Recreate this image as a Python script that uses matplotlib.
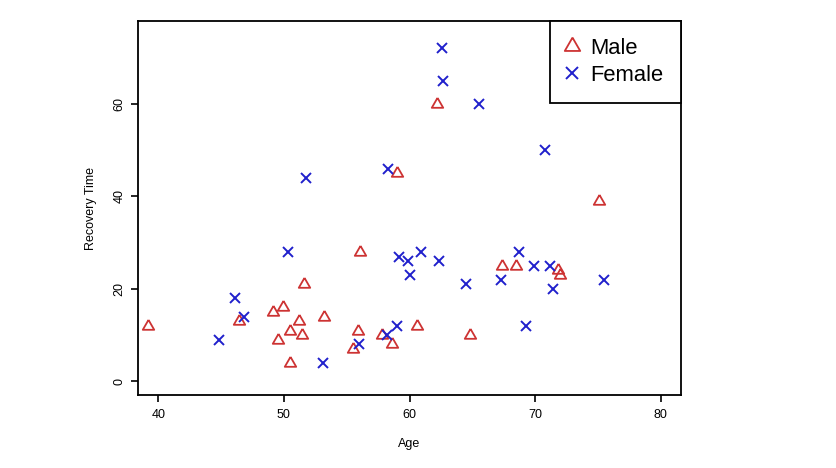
import matplotlib
matplotlib.use("Agg")
import matplotlib.pyplot as plt
import numpy as np

plt.rcParams['font.family'] = ['Liberation Sans', 'DejaVu Sans']

male_age = [39.2, 46.4, 49.1, 49.95, 51.2, 53.2, 50.5, 51.4, 49.5, 50.5, 51.6, 56.05,
            55.9, 57.8, 58.6, 55.5, 60.6, 64.8, 59.0, 62.2, 67.4, 68.5, 71.8, 72.0, 75.1]
male_rec = [12, 13, 15, 16, 13, 14, 11, 10, 9, 4, 21, 28,
            11, 10, 8, 7, 12, 10, 45, 60, 25, 25, 24, 23, 39]

female_age = [44.85, 46.1, 46.8, 50.3, 51.75, 53.1, 56.0, 58.2, 59.0, 58.3, 59.2, 59.9,
              60.0, 60.9, 62.35, 62.6, 62.7, 65.5, 64.5, 67.3, 68.7, 69.9, 71.2, 71.4,
              69.3, 75.5, 70.8]
female_rec = [9, 18, 14, 28, 44, 4, 8, 10, 12, 46, 27, 26,
              23, 28, 26, 72, 65, 60, 21, 22, 28, 25, 25, 20,
              12, 22, 50]

x_ticks = [40, 50, 60, 70, 80]
y_ticks = [0, 20, 40, 60]
x_lim = (40, 80)
y_lim = (0, 75)

red = '#cd3333'
blue = '#2020cc'

# R-style open triangle (pch = 2)
tri = [(0, 1.555), (1.347, -0.778), (-1.347, -0.778), (0, 1.555)]

fig = plt.figure(figsize=(8.36, 4.68), dpi=100)
ax = fig.add_axes([138.3 / 836, 1 - 395.3 / 468, (680.7 - 138.3) / 836, (395.3 - 20.7) / 468])

ax.plot(male_age, male_rec, linestyle='none', marker=tri, markersize=9.5,
        markerfacecolor='none', markeredgecolor=red, markeredgewidth=1.3, label='Male')
ax.plot(female_age, female_rec, linestyle='none', marker='x', markersize=6.5,
        markeredgecolor=blue, markeredgewidth=1.4, label='Female')

def ext(lo, hi):
    d = (hi - lo) * 0.04
    return lo - d, hi + d

ax.set_xlim(*ext(*x_lim))
ax.set_ylim(*ext(*y_lim))
ax.set_xticks(x_ticks)
ax.set_yticks(y_ticks)
ax.set_yticklabels([str(v) for v in y_ticks], rotation=90, va='center')
ax.tick_params(axis='both', length=5, width=1.2, labelsize=9, color='black')
ax.tick_params(axis='x', pad=5)
ax.tick_params(axis='y', pad=4)
for s in ax.spines.values():
    s.set_linewidth(1.3)

ax.set_xlabel('Age', fontsize=9)
ax.set_ylabel('Recovery Time', fontsize=9)
ax.xaxis.set_label_coords(0.5, -0.113)
ax.yaxis.set_label_coords(-0.076, 0.5)

leg = ax.legend(loc='upper right', borderaxespad=0, fancybox=False, frameon=True,
                edgecolor='black', fontsize=15.8, borderpad=0.78, labelspacing=0.27,
                handlelength=0.45, handletextpad=0.6, markerscale=1.35)
leg.get_frame().set_linewidth(1.3)
leg.get_frame().set_alpha(1)

fig.savefig('out.png', dpi=100)
